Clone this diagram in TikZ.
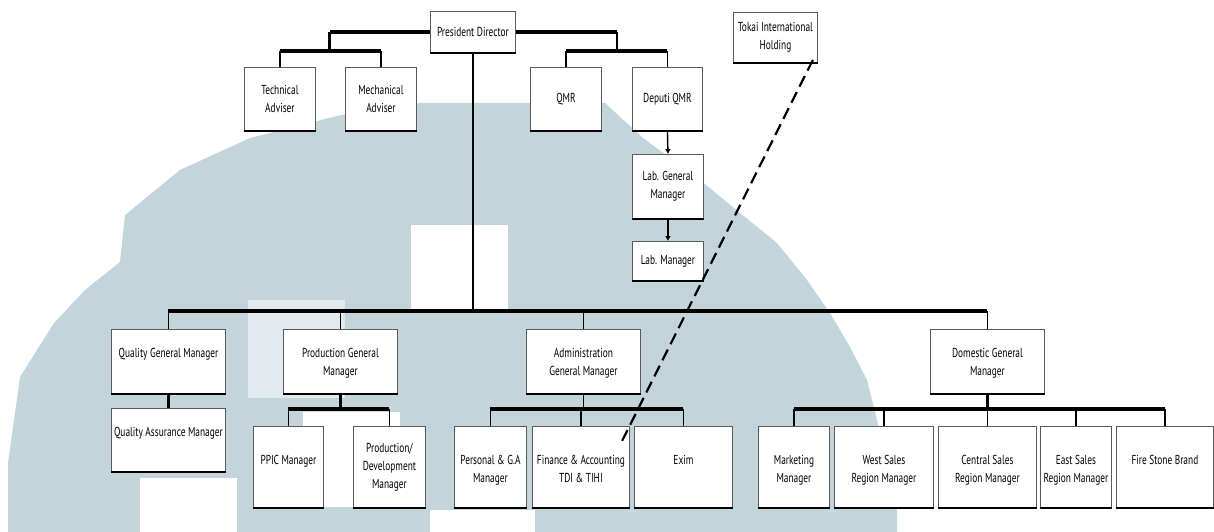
\documentclass[tikz,border=0pt]{standalone}
\usepackage{fontspec}
\setmainfont{PT Sans}[FakeStretch=0.72]
\usetikzlibrary{arrows.meta}
\definecolor{wm}{RGB}{196,212,219}
\definecolor{wmlight}{RGB}{226,234,238}
\definecolor{edge}{RGB}{90,90,90}
\newcommand\cbx[3]{\parbox[t][#2pt][c]{#1pt}{\centering #3}}
\newcommand\tbx[4]{\parbox[t][#2pt][t]{#1pt}{\centering\vspace*{#3pt}\strut #4}}
\tikzset{
  box/.style={draw=edge, line width=0.9pt, fill=white, inner sep=0pt, anchor=north west,
              font=\fontsize{13}{18}\selectfont},
  bus/.style={line width=3.2pt, black},
  drop/.style={line width=1.6pt, black},
  arr/.style={line width=1.4pt, -{Latex[length=5pt,width=6pt]}},
  dashline/.style={line width=2.2pt, dash pattern=on 12pt off 6pt},
  botedge/.style={line width=2.6pt, black}
}
\begin{document}
\begin{tikzpicture}[x=1pt,y=-1pt]
\useasboundingbox (0,0) rectangle (1214,532);
\fill[white] (0,0) rectangle (1214,532);
% watermark
\fill[wm] (8,532) -- (8,463) -- (20,377) -- (54,323) -- (85,290) -- (120,262) -- (125,215)
  -- (180,170) -- (250,138) -- (341,115) -- (420,103) -- (605,103) -- (643,138) -- (700,180)
  -- (740,213) -- (777,243) -- (807,280) -- (830,313) -- (850,347) -- (867,380) -- (877,420)
  -- (885,460) -- (897,510) -- (897,532) -- cycle;
\fill[white] (411,225) rectangle (508,311);
\fill[wmlight] (248,300) rectangle (345,398);
\fill[white] (303,412) rectangle (400,507);
\fill[white] (140,478) rectangle (237,532);
\fill[white] (430,510) rectangle (535,532);

% top level
\node[box] (pres) at (430,11) {\cbx{85}{41}{President Director}};
\node[box] (tokai) at (733,12) {\cbx{84}{50}{Tokai International\\Holding}};
\node[box] (tech) at (244,67) {\cbx{71}{63}{Technical\\Adviser}};
\node[box] (mech) at (345,67) {\cbx{71}{63}{Mechanical\\Adviser}};
\node[box] (qmr) at (530,67) {\cbx{71}{63}{QMR}};
\node[box] (dqmr) at (632,67) {\cbx{70}{63}{Deputi QMR}};
\node[box] (labgm) at (632,154) {\cbx{71}{64}{Lab. General\\Manager}};
\node[box] (labm) at (632,241) {\cbx{71}{39}{Lab. Manager}};

% general managers
\node[box] (qgm) at (111,329) {\tbx{114}{64}{15.6}{Quality General Manager}};
\node[box] (qam) at (111,408) {\tbx{114}{63}{15.6}{Quality Assurance Manager}};
\node[box] (pgm) at (283,329) {\tbx{114}{64}{15.6}{Production General\\Manager}};
\node[box] (agm) at (526,329) {\tbx{114}{64}{15.6}{Administration\\General Manager}};
\node[box] (dgm) at (930,329) {\tbx{114}{64}{15.6}{Domestic General\\Manager}};

% managers
\node[box] (ppic) at (253,426) {\tbx{70}{81}{25.6}{PPIC Manager}};
\node[box] (pdev) at (353,426) {\cbx{72}{81}{Production/\\Development\\Manager}};
\node[box] (pers) at (454,426) {\tbx{72}{81}{25.6}{Personal \& G.A\\Manager}};
\node[box] (fin) at (532,426) {\tbx{97}{81}{25.6}{Finance \& Accounting\\TDI \& TIHI}};
\node[box] (exim) at (634,426) {\tbx{98}{81}{25.6}{Exim}};
\node[box] (mkt) at (758,426) {\tbx{71}{81}{25.6}{Marketing\\Manager}};
\node[box] (west) at (834,426) {\tbx{99}{81}{25.6}{West Sales\\Region Manager}};
\node[box] (cent) at (938,426) {\tbx{98}{81}{25.6}{Central Sales\\Region Manager}};
\node[box] (east) at (1040,426) {\tbx{71}{81}{25.6}{East Sales\\Region Manager}};
\node[box] (fire) at (1116,426) {\tbx{97}{81}{25.6}{Fire Stone Brand}};

\foreach \n in {pres,tokai,tech,mech,qmr,dqmr,labgm,labm,qgm,qam,pgm,agm,dgm,
                ppic,pdev,pers,fin,exim,mkt,west,cent,east,fire}
  \draw[botedge] (\n.south west) -- (\n.south east);

% top connectors
\coordinate (tlj) at (329.5,51);
\coordinate (trj) at (617,51);
\draw[bus] (pres.west) -- (pres.west -| tlj);
\draw[drop,line width=2.2pt] (pres.west -| tlj) -- (tlj);
\draw[bus] (tlj -| tech.north) -- (tlj -| mech.north);
\draw[drop,line width=2.2pt] (tlj -| tech.north) -- (tech.north);
\draw[drop,line width=2.2pt] (tlj -| mech.north) -- (mech.north);
\draw[bus] (pres.east) -- (pres.east -| trj);
\draw[drop] (pres.east -| trj) -- (trj);
\draw[bus] (trj -| qmr.north) -- (trj -| dqmr.north);
\draw[drop] (trj -| qmr.north) -- (qmr.north);
\draw[drop] (trj -| dqmr.north) -- (dqmr.north);
\draw[arr] (dqmr.south) -- (labgm.north);
\draw[arr] (labgm.south) -- (labm.north);

% main bus
\coordinate (mb) at (473,311);
\draw[drop] (pres.south) -- (pres.south |- mb);
\draw[bus] (mb -| qgm.north) -- (mb -| dgm.north);
\foreach \n in {qgm,pgm,agm,dgm}
  \draw[drop] (mb -| \n.north) -- (\n.north);
\draw[drop,line width=2.2pt] (qgm.south) -- (qam.north);

% sub buses
\coordinate (sb) at (0,409);
\draw[drop,line width=2.2pt] (pgm.south) -- (pgm.south |- sb);
\draw[bus] (sb -| ppic.north) -- (sb -| pdev.north);
\foreach \n in {ppic,pdev} \draw[drop] (sb -| \n.north) -- (\n.north);

\draw[drop] (agm.south) -- (agm.south |- sb);
\draw[bus] (sb -| pers.north) -- (sb -| exim.north);
\foreach \n in {pers,fin,exim} \draw[drop] (sb -| \n.north) -- (\n.north);

\draw[drop,line width=2.2pt] (dgm.south) -- (dgm.south |- sb);
\draw[bus] (sb -| mkt.north) -- (sb -| fire.north);
\foreach \n in {mkt,west,cent,east,fire} \draw[drop] (sb -| \n.north) -- (\n.north);

% dashed relation
\coordinate (fend) at (620,445);
\draw[dashline] ([xshift=-5pt,yshift=3pt]tokai.south east) -- (fend);
\end{tikzpicture}
\end{document}
